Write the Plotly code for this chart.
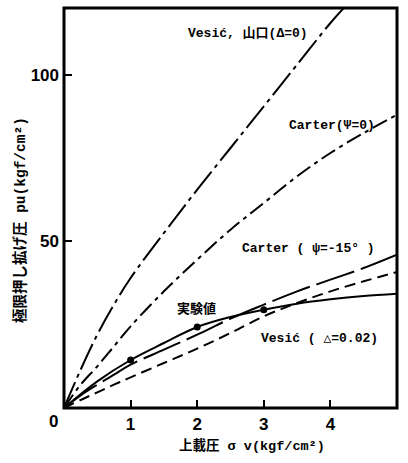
import plotly.graph_objects as go

# Overburden pressure sigma_v (kgf/cm2)
x_vals = [0, 0.25, 0.5, 0.75, 1, 1.5, 2, 2.5, 3, 3.5, 4, 4.5, 5]

vesic_d0_x = [0, 0.25, 0.5, 0.75, 1, 1.5, 2, 2.5, 3, 3.5, 4, 4.2]
vesic_d0_y = [0, 11.5, 22, 31, 39, 52.5, 65.5, 78, 90.5, 103, 115.5, 120]

carter_p0_y = [0, 7, 12.5, 18.5, 24.5, 35, 44.5, 53.5, 61.5, 69.5, 76.5, 82.5, 88]
carter_m15_y = [0, 3.8, 7, 10, 13, 17.5, 22, 26.8, 31, 35, 38.5, 42, 46]
vesic_d002_y = [0, 2.4, 4.7, 7, 9.2, 13.5, 17.8, 22.5, 27.5, 31.5, 35, 38, 40.8]

exp_x = [0, 0.5, 1, 1.5, 2, 2.5, 3, 3.5, 4, 4.5, 5]
exp_y = [0, 8, 14.4, 19.5, 24.3, 27.3, 29.5, 31.3, 32.6, 33.6, 34.3]
exp_pts_x = [1, 2, 3]
exp_pts_y = [14.4, 24.3, 29.5]

x_ticks = [1, 2, 3, 4]
y_ticks = [50, 100]

fig = go.Figure()
lw = 2
fig.add_trace(go.Scatter(x=vesic_d0_x, y=vesic_d0_y, mode="lines", line_shape="spline",
                         line=dict(color="black", width=lw, dash="28px,5px,4px,5px")))
fig.add_trace(go.Scatter(x=x_vals, y=carter_p0_y, mode="lines", line_shape="spline",
                         line=dict(color="black", width=lw, dash="16px,5px,4px,5px")))
fig.add_trace(go.Scatter(x=x_vals, y=carter_m15_y, mode="lines", line_shape="spline",
                         line=dict(color="black", width=lw, dash="40px,7px")))
fig.add_trace(go.Scatter(x=x_vals, y=vesic_d002_y, mode="lines", line_shape="spline",
                         line=dict(color="black", width=lw, dash="11px,6px")))
fig.add_trace(go.Scatter(x=exp_x, y=exp_y, mode="lines", line_shape="spline",
                         line=dict(color="black", width=lw)))
fig.add_trace(go.Scatter(x=exp_pts_x, y=exp_pts_y, mode="markers",
                         marker=dict(color="black", size=7)))

lab_font = dict(family="Liberation Mono, DejaVu Sans Mono, Noto Sans CJK JP", size=13,
                color="black", weight="bold")
labels = [
    (2.76, 112.3, "Vesić, 山口(Δ=0)"),
    (4.03, 84.7, "Carter(Ψ=0)"),
    (3.67, 47.9, "Carter ( ψ=-15° )"),
    (3.84, 21.0, "Vesić ( △=0.02)"),
    (1.99, 29.6, "実験値"),
]
for lx, ly, t in labels:
    fig.add_annotation(x=lx, y=ly, text=t, showarrow=False, font=lab_font,
                       xanchor="center", yanchor="middle")

title_fam = "Liberation Mono, Noto Sans CJK JP"
fig.add_annotation(xref="paper", yref="paper", x=0.565, y=-0.0925, text="上載圧 σ v(kgf/cm²)",
                   showarrow=False, xanchor="center", yanchor="middle",
                   font=dict(family=title_fam, size=13.5, color="black", weight="bold"))
fig.add_annotation(xref="paper", yref="paper", x=-0.132, y=0.47, text="極限押し拡げ圧 pu(kgf/cm²)",
                   showarrow=False, textangle=-90, xanchor="center", yanchor="middle",
                   font=dict(family=title_fam, size=14.5, color="black", weight="bold"))
tick_font = dict(family="Liberation Sans, Arial", size=17, color="black", weight="bold")
fig.add_annotation(xref="paper", yref="paper", x=-0.033, y=-0.035, text="0",
                   showarrow=False, xanchor="center", yanchor="middle", font=tick_font)

# plot frame
fig.add_shape(type="rect", xref="paper", yref="paper", x0=0, y0=0, x1=1, y1=1,
              line=dict(color="black", width=3), layer="above")

axis_common = dict(showline=False, showgrid=False, zeroline=False, ticks="inside", ticklen=8,
                   tickwidth=2, tickcolor="black", tickfont=tick_font, ticklabelstandoff=4)
fig.update_xaxes(range=[0, 5], tickvals=x_ticks, **axis_common)
fig.update_yaxes(range=[0, 120], tickvals=y_ticks, **axis_common)

fig.update_layout(width=408, height=463, margin=dict(l=64, r=11, t=8, b=55),
                  plot_bgcolor="white", paper_bgcolor="white", showlegend=False)
fig.write_html("out.html", config={"displayModeBar": False},
               post_script="document.body.style.margin='0';document.body.style.overflow='hidden';")
